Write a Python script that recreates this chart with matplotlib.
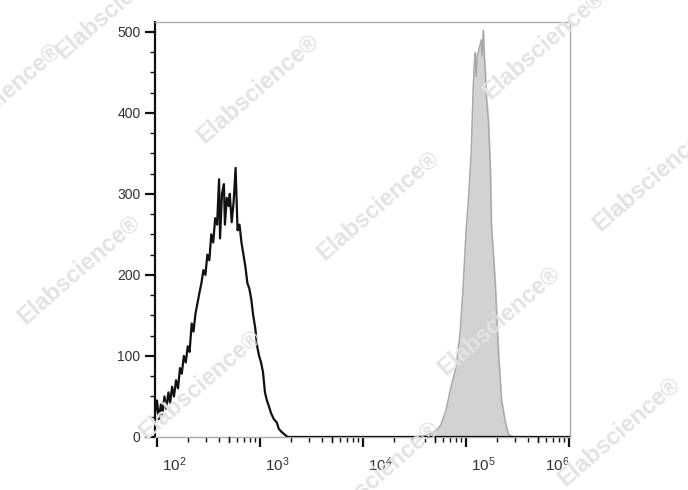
import numpy as np
import matplotlib
matplotlib.use("Agg")
import matplotlib.pyplot as plt
import matplotlib.transforms as mtrans
from matplotlib.ticker import FixedLocator, FuncFormatter, MultipleLocator, LogLocator

plt.rcParams['font.family'] = ['Liberation Sans', 'DejaVu Sans']
plt.rcParams['mathtext.fontset'] = 'custom'
plt.rcParams['mathtext.rm'] = 'Liberation Sans'
plt.rcParams['mathtext.it'] = 'Liberation Sans:italic'

# control (black outline)
ctrl_x = [96, 100, 104, 109, 113, 118, 123, 129, 134, 140, 146, 153, 160, 167, 174, 182,
          190, 199, 207, 217, 226, 236, 247, 258, 270, 282, 295, 308, 322, 336, 351, 367,
          383, 400, 409, 427, 446, 456, 476, 497, 508, 531, 554, 579, 605, 632, 660, 690,
          721, 753, 787, 822, 858, 897, 937, 979, 1023, 1068, 1116, 1166, 1219, 1273, 1360,
          1453, 1520, 1624, 1736, 1855, 1982, 1000000]
ctrl_y = [30, 45, 22, 40, 28, 50, 35, 55, 42, 62, 50, 70, 60, 85, 78, 100,
          92, 112, 105, 140, 130, 152, 165, 178, 190, 206, 200, 225, 218, 250, 240, 270,
          262, 318, 245, 300, 312, 262, 295, 285, 300, 265, 290, 332, 255, 262, 240, 225,
          210, 190, 183, 170, 150, 135, 112, 100, 92, 80, 55, 45, 38, 30, 22, 18, 10, 6,
          3, 0, 0, 0]

# stained sample (gray fill)
samp_x = [30200, 37850, 47400, 53100, 56800, 63700, 71300, 79800, 87300, 93500, 100000,
          104700, 112000, 117200, 120000, 122500, 125000, 128300, 134100, 140300, 143000,
          146800, 150000, 153600, 157100, 164400, 171900, 175800, 184000, 192400, 206000,
          220400, 241100, 258100, 289000]
samp_y = [0, 1, 5, 10, 15, 33, 62, 86, 128, 185, 256,
          289, 351, 432, 460, 474, 445, 470, 480, 490, 470,
          502, 470, 451, 420, 391, 330, 262, 225, 185, 104,
          46, 17, 3, 0]

xticks = [1e2, 1e3, 1e4, 1e5, 1e6]
mid_ticks = [5e2, 5e3, 5e4, 5e5]

fig = plt.figure(figsize=(6.88, 4.9), dpi=100)
ax = fig.add_axes([0.2253, 0.1082, 0.6032, 0.8469])
ax.set_facecolor('none')

# watermarks
wm_pos = [(0.17, 0.99), (0.0, 0.80), (0.375, 0.82), (0.79, 0.91), (0.55, 0.58),
          (0.95, 0.64), (0.115, 0.45), (0.725, 0.345), (0.29, 0.215), (0.90, 0.12),
          (0.55, 0.03)]
for wx, wy in wm_pos:
    fig.text(wx, wy, 'Elabscience\u00ae', rotation=41, fontsize=17, fontweight='bold',
             color='#e3e3e3', ha='center', va='center', zorder=0)

ax.fill_between(samp_x, samp_y, color='#d2d2d2', zorder=2)
ax.plot(samp_x, samp_y, color='#a8a8a8', lw=1.0, zorder=3)
ax.plot(ctrl_x, ctrl_y, color='#111111', lw=1.6, zorder=4)

ax.set_xscale('log')
ax.set_xlim(95.6, 1.02e6)
ax.set_ylim(0, 512)

ax.xaxis.set_major_locator(FixedLocator(xticks))
ax.xaxis.set_minor_locator(LogLocator(base=10, subs=np.arange(2, 10)))
ax.xaxis.set_major_formatter(FuncFormatter(lambda v, p: r'$10^{%d}$' % round(np.log10(v))))
ax.xaxis.set_minor_formatter(FuncFormatter(lambda v, p: ''))
ax.yaxis.set_major_locator(MultipleLocator(100))
ax.yaxis.set_minor_locator(MultipleLocator(25))

ax.tick_params(axis='both', which='major', direction='out', length=7.5, width=1.6,
               color='#111111', labelsize=10, labelcolor='#333333')
ax.tick_params(axis='both', which='minor', direction='out', length=3.8, width=1.0,
               color='#111111')
ax.tick_params(axis='x', which='major', pad=6)
ax.tick_params(axis='y', which='major', pad=3)

# slightly longer ticks at 5 x 10^n
for m in mid_ticks:
    ax.plot([m, m], [0, -0.012], transform=ax.get_xaxis_transform(), color='#111111',
            lw=1.0, clip_on=False, zorder=5)

labels = ax.get_xticklabels()
shift = mtrans.ScaledTranslation(5 / 100, 0, fig.dpi_scale_trans)
for i, lab in enumerate(labels):
    if i == len(labels) - 1:
        lab.set_ha('right')
    else:
        lab.set_ha('left')
        lab.set_transform(lab.get_transform() + shift)
    lab.set_fontsize(11)

ax.spines['left'].set_color('#111111')
ax.spines['left'].set_linewidth(1.6)
for s in ['top', 'right', 'bottom']:
    ax.spines[s].set_color('#aaaaaa')
    ax.spines[s].set_linewidth(1.0)

fig.savefig('out.png', dpi=100)
